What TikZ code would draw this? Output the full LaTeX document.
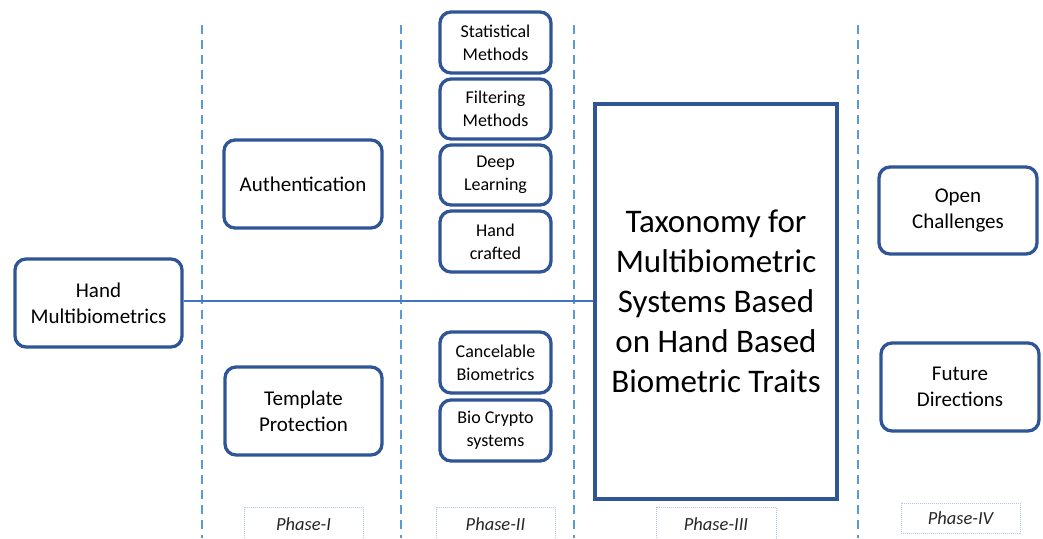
\documentclass[tikz,border=0pt]{standalone}
\usepackage{fontspec}
\setmainfont{Carlito}
\definecolor{boxblue}{HTML}{2F5597}
\definecolor{dashblue}{HTML}{5B9BD5}
\definecolor{lineblue}{HTML}{4472C4}
\definecolor{txt}{HTML}{000000}
\definecolor{phasegray}{HTML}{B4C7E7}
\tikzset{
  rbox/.style={draw=boxblue, line width=3.3pt, rounded corners=11pt, fill=white, align=center, text=txt, inner sep=0pt},
  medtxt/.style={font=\fontsize{21}{26}\selectfont},
  smalltxt/.style={font=\fontsize{18}{23}\selectfont},
  phasedash/.style={draw=dashblue, line width=2.8pt, dash pattern=on 9pt off 6pt},
  phasebox/.style={draw=phasegray, densely dotted, line width=1pt, inner sep=0pt, font=\fontsize{18.5}{20}\selectfont\itshape, text=black!85}
}
\begin{document}
\begin{tikzpicture}[x=1pt,y=-1pt]
\useasboundingbox (0,0) rectangle (1043,538);
% dashed phase separators
\foreach \xx [count=\i] in {202,401,574,858}{
  \coordinate (t\i) at (\xx,25);
  \coordinate (b\i) at (\xx,538);
  \draw[phasedash] (t\i) -- (b\i);
}
% main boxes
\node[rbox, medtxt, minimum width=167pt, minimum height=88pt] (hand) at (98.5,303) {Hand\\Multibiometrics};
\node[rbox, medtxt, minimum width=158pt, minimum height=88pt] (auth) at (303,184) {Authentication};
\node[rbox, medtxt, minimum width=157pt, minimum height=88pt] (temp) at (303.5,411) {Template\\Protection};
\node[rbox, smalltxt, minimum width=111pt, minimum height=61pt] (stat) at (495.5,42.5) {Statistical\\Methods};
\node[rbox, smalltxt, minimum width=111pt, minimum height=60pt] (filt) at (495.5,109) {Filtering\\Methods};
\node[rbox, smalltxt, minimum width=111pt, minimum height=60pt] (deep) at (495.5,175) {Deep\\Learning};
\node[rbox, smalltxt, minimum width=111pt, minimum height=61pt] (craft) at (495.5,241.5) {Hand\\crafted};
\node[rbox, smalltxt, minimum width=111pt, minimum height=61pt] (canc) at (495.5,362.5) {Cancelable\\Biometrics};
\node[rbox, smalltxt, minimum width=111pt, minimum height=61pt] (bioc) at (495.5,430.5) {Bio Crypto\\systems};
\node[draw=boxblue, line width=3.3pt, fill=white, minimum width=242pt, minimum height=395pt, inner sep=0pt, align=center, text=txt, font=\fontsize{33}{40}\selectfont] (tax) at (716,301.5) {Taxonomy for\\Multibiometric\\Systems Based\\on Hand Based\\Biometric Traits};
\node[rbox, medtxt, minimum width=158pt, minimum height=87pt] (open) at (958,210.5) {Open\\Challenges};
\node[rbox, medtxt, minimum width=158pt, minimum height=88pt] (fut) at (960,387) {Future\\Directions};
% connector
\draw[lineblue, line width=1.2pt] (hand.east |- 0,301) -- (tax.west |- 0,301);
% phase labels
\node[phasebox, minimum width=119pt, minimum height=34pt] (p1) at (303.5,524) {Phase-I};
\node[phasebox, minimum width=119pt, minimum height=34pt] (p2) at (495.5,524) {Phase-II};
\node[phasebox, minimum width=120pt, minimum height=34pt] (p3) at (716,524) {Phase-III};
\node[phasebox, minimum width=119pt, minimum height=30pt] (p4) at (960.5,518) {Phase-IV};
\end{tikzpicture}
\end{document}
